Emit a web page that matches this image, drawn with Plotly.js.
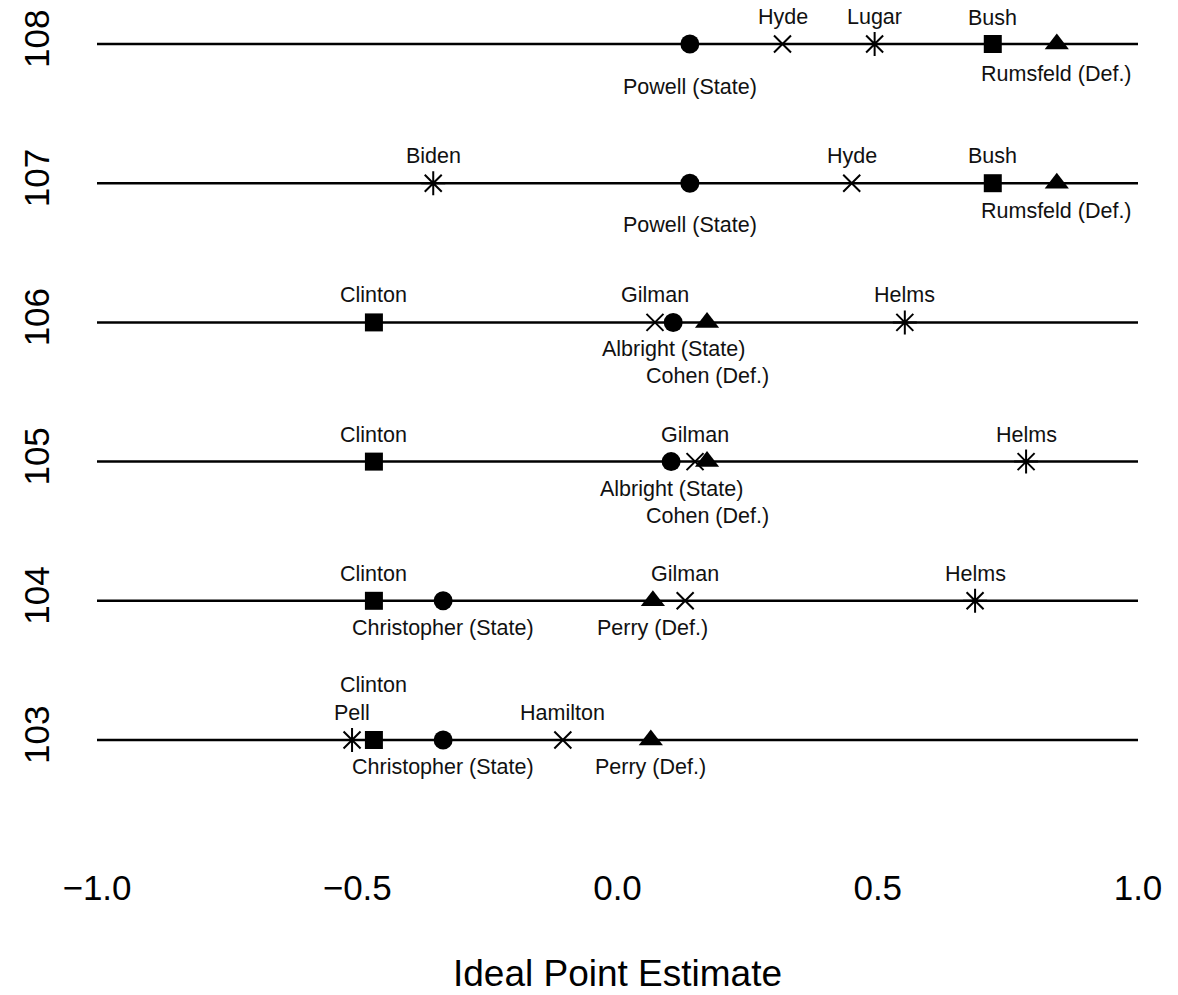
<!DOCTYPE html>
<html>
<head>
<meta charset="utf-8">
<script src="https://cdn.plot.ly/plotly-3.0.1.min.js"></script>
<style>html,body{margin:0;padding:0;background:#fff;}#chart{width:1178px;height:995px;}</style>
</head>
<body>
<div id="chart"></div>
<script>
// Congress rows (top to bottom)
const congresses = [108, 107, 106, 105, 104, 103];
const congressLabels = ["108", "107", "106", "105", "104", "103"];
const lineEnds = [-1, 1];

// Ideal point estimates by role
const president      = [0.721, 0.721, -0.468, -0.468, -0.468, -0.468];
const presidentNames = ["Bush", "Bush", "Clinton", "Clinton", "Clinton", "Clinton"];

const secState      = [0.139, 0.139, 0.107, 0.103, -0.335, -0.335];
const secStateNames = ["Powell (State)", "Powell (State)", "Albright (State)", "Albright (State)", "Christopher (State)", "Christopher (State)"];

const secDef      = [0.844, 0.844, 0.172, 0.172, 0.068, 0.064];
const secDefNames = ["Rumsfeld (Def.)", "Rumsfeld (Def.)", "Cohen (Def.)", "Cohen (Def.)", "Perry (Def.)", "Perry (Def.)"];

const houseChair      = [0.317, 0.450, 0.072, 0.149, 0.130, -0.105];
const houseChairNames = ["Hyde", "Hyde", "Gilman", "Gilman", "Gilman", "Hamilton"];

const senateChair      = [0.494, -0.354, 0.552, 0.785, 0.687, -0.510];
const senateChairNames = ["Lugar", "Biden", "Helms", "Helms", "Helms", "Pell"];

const xTicks = [-1, -0.5, 0, 0.5, 1];
const xTickText = ["\u22121.0", "\u22120.5", "0.0", "0.5", "1.0"];

// label offsets (pixels, positive = above) per role and row
const presidentShift = [26, 27, 27, 27, 27, 55];
const stateShift     = [-43, -42, -27, -27, -27, -27];
const defShift       = [-30, -28, -54, -54, -27, -27];
const houseShift     = [27, 27, 27, 27, 27, 27];
const senateShift    = [27, 27, 27, 27, 27, 27];

// horizontal lines
const lx = [], ly = [];
congresses.forEach(c => { lx.push(lineEnds[0], lineEnds[1], null); ly.push(c, c, null); });

const traces = [
  {x: lx, y: ly, mode: 'lines', line: {color: '#000', width: 2.5}, hoverinfo: 'skip'},
  {x: president, y: congresses, mode: 'markers', marker: {symbol: 'square', size: 18, color: '#000'}},
  {x: secState, y: congresses, mode: 'markers', marker: {symbol: 'circle', size: 19, color: '#000'}},
  {x: secDef, y: congresses, mode: 'markers', marker: {symbol: 'triangle-up', size: 21, color: '#000'}},
  {x: houseChair, y: congresses, mode: 'markers', marker: {symbol: 'x-thin-open', size: 17, color: '#000', line: {color: '#000', width: 2}}},
  {x: senateChair, y: congresses, mode: 'markers', marker: {symbol: 'asterisk-open', size: 20, color: '#000', line: {color: '#000', width: 2}}}
];

const annotations = [];
function addLabels(xs, names, shifts) {
  xs.forEach((v, i) => {
    annotations.push({
      x: v, y: congresses[i], xref: 'x', yref: 'y', text: names[i],
      showarrow: false, yshift: shifts[i], xanchor: 'center', yanchor: 'middle',
      font: {family: 'Liberation Sans, Arial, sans-serif', size: 21.5, color: '#111'}
    });
  });
}
addLabels(president, presidentNames, presidentShift);
addLabels(secState, secStateNames, stateShift);
addLabels(secDef, secDefNames, defShift);
addLabels(houseChair, houseChairNames, houseShift);
addLabels(senateChair, senateChairNames, senateShift);

const layout = {
  width: 1178, height: 995,
  margin: {l: 97, r: 40, t: 4, b: 145},
  paper_bgcolor: '#fff', plot_bgcolor: '#fff',
  showlegend: false,
  font: {family: 'Liberation Sans, Arial, sans-serif', color: '#000'},
  xaxis: {
    range: [-1, 1], showgrid: false, zeroline: false, showline: false, ticks: '',
    tickmode: 'array', tickvals: xTicks, ticktext: xTickText,
    tickfont: {size: 35, color: '#000'}, ticklabelstandoff: 14, automargin: false,
    title: {text: 'Ideal Point Estimate', font: {size: 37, color: '#000'}, standoff: 54}
  },
  yaxis: {
    range: [102.2098, 108.2874], showgrid: false, zeroline: false, showline: false, ticks: '',
    tickmode: 'array', tickvals: congresses, ticktext: congressLabels, tickangle: -90,
    tickfont: {size: 35, color: '#000'}, ticklabelstandoff: 40, automargin: false
  },
  annotations: annotations
};

Plotly.newPlot('chart', traces, layout, {displayModeBar: false, staticPlot: true});
</script>
</body>
</html>
